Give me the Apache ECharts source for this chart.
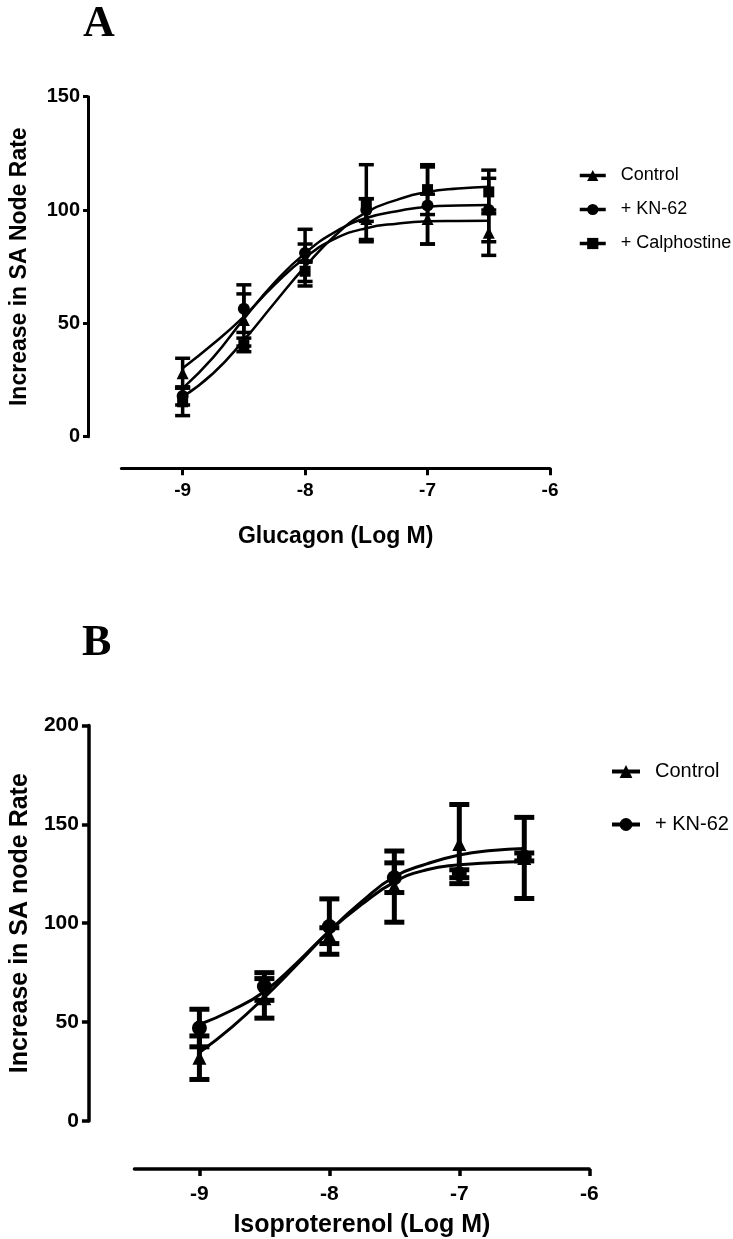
<!DOCTYPE html>
<html>
<head>
<meta charset="utf-8">
<script src="https://cdn.jsdelivr.net/npm/echarts@6/dist/echarts.min.js"></script>
<style>
  html, body { margin: 0; padding: 0; background: #fff; }
  #chart { width: 733px; height: 1239px; }
</style>
</head>
<body>
<div id="chart"></div>
<script>
// ---------- Panel A: Glucagon ----------
const doseA = [-9, -8.5, -8, -7.5, -7, -6.5];
const ctrlA = [28, 51.5, 79, 96, 96, 90];
const ctrlAsem = [6.6, 11.5, 12.5, 9, 11, 10];
const kn62A = [18, 56.5, 81, 100, 102, 100];
const kn62Asem = [4, 10.5, 4, 5, 17, 14];
const calphA = [15.4, 40.5, 73, 103, 109, 108];
const calphAsem = [6.1, 3, 4.5, 17, 11, 9.6];

// fitted curves
const fitX = [-9, -8.75, -8.5, -8.25, -8, -7.75, -7.5, -7.25, -7, -6.75, -6.5];
const ctrlFitA = [30.2, 41, 53, 67, 79, 87.5, 92, 94, 95, 95.2, 95.3];
const kn62FitA = [21.3, 35, 52, 68, 81, 90.5, 96.5, 99.5, 101.5, 102, 102.2];
const calphFitA = [17.6, 28, 42.6, 59, 75, 89, 99, 104.5, 108, 109.5, 110.3];

// ---------- Panel B: Isoproterenol ----------
const doseB = [-9, -8.5, -8, -7.5, -7, -6.5];
const ctrlB = [32, 62, 93.7, 118.5, 140, 133];
const ctrlBsem = [11, 10, 4, 18, 20, 20.5];
const kn62B = [47, 68, 98.3, 123, 125, 133.5];
const kn62Bsem = [9.5, 7, 14, 7.5, 2, 2];
const ctrlFitB = [34.6, 47.5, 62.5, 79, 96, 111, 123.5, 130, 134.5, 136.8, 137.8];
const kn62FitB = [48.8, 56, 65.5, 80, 96, 109.5, 120.8, 127, 129.5, 130.6, 131.2];

const xTicks = [-9, -8, -7, -6];
const FONT = "'Liberation Sans', Arial, sans-serif";

function pairs(xs, ys) { return xs.map((x, i) => [x, ys[i]]); }
function errs(xs, ys, es) { return xs.map((x, i) => [x, ys[i] - es[i], ys[i] + es[i]]); }

function errRender(cap, lw) {
  return function (params, api) {
    const x = api.value(0), lo = api.value(1), hi = api.value(2);
    const pHi = api.coord([x, hi]);
    const pLo = api.coord([x, lo]);
    const s = { stroke: '#000', lineWidth: lw };
    return {
      type: 'group',
      children: [
        { type: 'line', shape: { x1: pHi[0], y1: pHi[1], x2: pLo[0], y2: pLo[1] }, style: s },
        { type: 'line', shape: { x1: pHi[0] - cap / 2, y1: pHi[1], x2: pHi[0] + cap / 2, y2: pHi[1] }, style: s },
        { type: 'line', shape: { x1: pLo[0] - cap / 2, y1: pLo[1], x2: pLo[0] + cap / 2, y2: pLo[1] }, style: s }
      ]
    };
  };
}

function group(name, axis, fitY, xs, ys, es, symbol, size, lw, cap, elw) {
  return [
    {
      type: 'line', name: name, xAxisIndex: axis, yAxisIndex: axis,
      data: pairs(fitX, fitY), smooth: true, showSymbol: false,
      symbol: symbol, symbolSize: size,
      lineStyle: { color: '#000', width: lw }, itemStyle: { color: '#000' },
      silent: true, z: 2
    },
    {
      type: 'custom', name: name, xAxisIndex: axis, yAxisIndex: axis,
      data: errs(xs, ys, es), encode: { x: 0, y: [1, 2] },
      renderItem: errRender(cap, elw), silent: true, z: 3
    },
    {
      type: 'scatter', name: name, xAxisIndex: axis, yAxisIndex: axis,
      data: pairs(xs, ys), symbol: symbol, symbolSize: size,
      itemStyle: { color: '#000', opacity: 1 }, silent: true, z: 4
    }
  ];
}

const axisText = (size) => ({ fontSize: size, fontWeight: 'bold', color: '#000', fontFamily: FONT });

const option = {
  animation: false,
  backgroundColor: '#fff',
  title: [
    { text: 'A', left: 83, top: 3, padding: 0,
      textStyle: { fontFamily: "'Liberation Serif', 'Times New Roman', serif", fontWeight: 'bold', fontSize: 44, color: '#000' } },
    { text: 'B', left: 82, top: 622, padding: 0,
      textStyle: { fontFamily: "'Liberation Serif', 'Times New Roman', serif", fontWeight: 'bold', fontSize: 44, color: '#000' } }
  ],
  legend: [
    {
      data: ['Control', '+ KN-62', '+ Calphostine'],
      orient: 'vertical', left: 578, top: 165, padding: 0,
      itemWidth: 26, itemHeight: 14, itemGap: 13, selectedMode: false,
      lineStyle: { width: 3.5 },
      textStyle: { fontSize: 18, fontFamily: FONT, color: '#000', lineHeight: 21, padding: [0, 0, 0, 10] }
    },
    {
      data: ['Control ', '+ KN-62 '],
      formatter: (n) => n.trim(),
      orient: 'vertical', left: 610, top: 760, padding: 0,
      itemWidth: 28, itemHeight: 16, itemGap: 30, selectedMode: false,
      lineStyle: { width: 4 },
      textStyle: { fontSize: 20, fontFamily: FONT, color: '#000', lineHeight: 23, padding: [0, 0, 0, 10] }
    }
  ],
  grid: [
    { left: 116.7, top: 96.7, width: 433.3, height: 340 },
    { left: 125.5, top: 725.4, width: 463.75, height: 398.6 }
  ],
  xAxis: [
    {
      gridIndex: 0, type: 'value', min: -9.5, max: -6, position: 'bottom', offset: 31.6,
      axisLine: { show: true, onZero: false, lineStyle: { color: '#000', width: 3 } },
      axisTick: { show: true, length: 7, customValues: xTicks, lineStyle: { color: '#000', width: 3 } },
      axisLabel: Object.assign({ customValues: xTicks, margin: 13 }, axisText(19)),
      splitLine: { show: false },
      name: 'Glucagon (Log M)', nameLocation: 'middle', nameGap: 57,
      nameTextStyle: axisText(23)
    },
    {
      gridIndex: 1, type: 'value', min: -9.5, max: -6, position: 'bottom', offset: 48,
      axisLine: { show: true, onZero: false, lineStyle: { color: '#000', width: 3.5 } },
      axisTick: { show: true, length: 7, customValues: xTicks, lineStyle: { color: '#000', width: 3.5 } },
      axisLabel: Object.assign({ customValues: xTicks, margin: 15 }, axisText(21)),
      splitLine: { show: false },
      name: 'Isoproterenol (Log M)', nameLocation: 'middle', nameGap: 44,
      nameTextStyle: axisText(25)
    }
  ],
  yAxis: [
    {
      gridIndex: 0, type: 'value', min: 0, max: 150, interval: 50, position: 'left', offset: 33.4,
      axisLine: { show: true, onZero: false, lineStyle: { color: '#000', width: 3 } },
      axisTick: { show: true, length: 5, lineStyle: { color: '#000', width: 3 } },
      axisLabel: Object.assign({ margin: 8 }, axisText(20)),
      splitLine: { show: false },
      name: 'Increase in SA Node Rate', nameLocation: 'middle', nameGap: 57,
      nameTextStyle: axisText(23)
    },
    {
      gridIndex: 1, type: 'value', min: 0, max: 200, interval: 50, position: 'left', offset: 45.5,
      axisLine: { show: true, onZero: false, lineStyle: { color: '#000', width: 3.5 } },
      axisTick: { show: true, length: 7, lineStyle: { color: '#000', width: 3.5 } },
      axisLabel: Object.assign({ margin: 10 }, axisText(21)),
      splitLine: { show: false },
      name: 'Increase in SA node Rate', nameLocation: 'middle', nameGap: 53,
      nameTextStyle: axisText(25)
    }
  ],
  series: [].concat(
    group('Control', 0, ctrlFitA, doseA, ctrlA, ctrlAsem, 'triangle', 12, 2.5, 15, 3.5),
    group('+ KN-62', 0, kn62FitA, doseA, kn62A, kn62Asem, 'circle', 12, 2.5, 15, 3.5),
    group('+ Calphostine', 0, calphFitA, doseA, calphA, calphAsem, 'rect', 11, 2.5, 15, 3.5),
    group('Control ', 1, ctrlFitB, doseB, ctrlB, ctrlBsem, 'triangle', 14, 3, 20, 5),
    group('+ KN-62 ', 1, kn62FitB, doseB, kn62B, kn62Bsem, 'circle', 15, 3, 20, 5)
  )
};

const chart = echarts.init(document.getElementById('chart'), null, { renderer: 'canvas' });
chart.setOption(option);
</script>
</body>
</html>
